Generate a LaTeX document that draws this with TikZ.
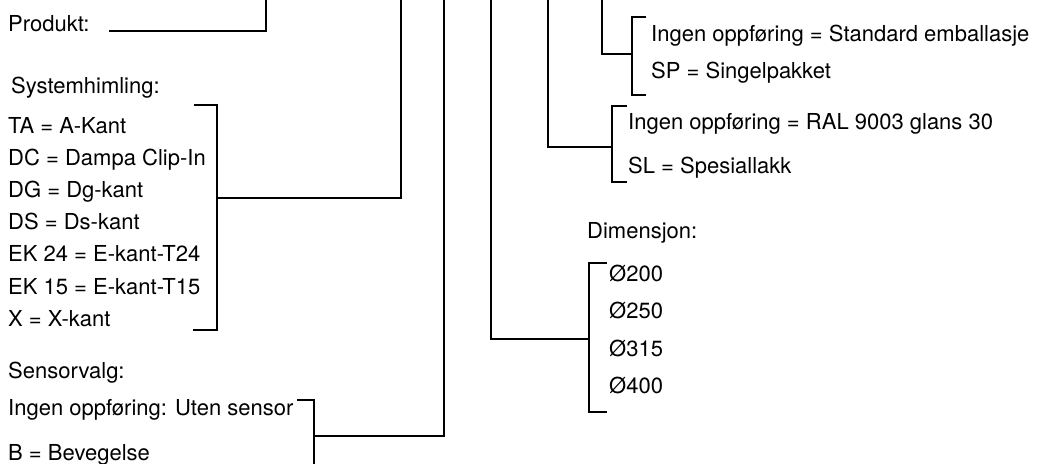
\documentclass[tikz,border=0pt]{standalone}
\usepackage{fontspec}
\setmainfont{TeX Gyre Heros}
\begin{document}
\begin{tikzpicture}[x=1pt,y=-1pt,
  lbl/.style={anchor=base west,inner sep=0pt,font=\fontsize{22}{26}\selectfont},
  ln/.style={line width=1.4pt,line join=miter}]
\useasboundingbox (0,0) rectangle (1038,463);
% left column
\node[lbl] (prod) at (8,31) {Produkt:};
\node[lbl] (sys) at (11,93) {Systemhimling:};
\node[lbl] (ta) at (8,133) {TA = A-Kant};
\node[lbl] (dc) at (8,165) {DC = Dampa Clip-In};
\node[lbl] (dg) at (8,197) {DG = Dg-kant};
\node[lbl] (ds) at (8,229) {DS = Ds-kant};
\node[lbl] (ek24) at (8,261) {EK 24 = E-kant-T24};
\node[lbl] (ek15) at (8,294) {EK 15 = E-kant-T15};
\node[lbl] (xk) at (8,326) {X = X-kant};
\node[lbl] (sens) at (8,378) {Sensorvalg:};
\node[lbl] (ingen) at (8,415) {Ingen oppføring: Uten sensor};
\node[lbl] (bev) at (8,460) {B = Bevegelse};
% right column
\node[lbl] (pk1) at (651,41) {Ingen oppføring = Standard emballasje};
\node[lbl] (pk2) at (651,78) {SP = Singelpakket};
\node[lbl] (ral1) at (628,129) {Ingen oppføring = RAL 9003 glans 30};
\node[lbl] (ral2) at (628,173) {SL = Spesiallakk};
\node[lbl] (dim) at (587,238) {Dimensjon:};
\node[lbl] (d200) at (609,281) {Ø200};
\node[lbl] (d250) at (609,318) {Ø250};
\node[lbl] (d315) at (609,356) {Ø315};
\node[lbl] (d400) at (609,393) {Ø400};
% coordinates
\coordinate (pA) at (109,31);
\coordinate (pB) at (266,-2);
\coordinate (sT) at (194,105);
\coordinate (sB) at (217,330);
\coordinate (sE) at (193,330);
\coordinate (sM) at (217,198);
\coordinate (sU) at (401,-2);
\coordinate (nT) at (297,400);
\coordinate (nB) at (314,466);
\coordinate (nM) at (314,436);
\coordinate (nU) at (444,-2);
\coordinate (dT) at (607,263);
\coordinate (dB) at (589,412);
\coordinate (dE) at (607,412);
\coordinate (dM) at (589,339);
\coordinate (dU) at (491,-2);
\coordinate (rT) at (627,106);
\coordinate (rB) at (612,182);
\coordinate (rE) at (627,182);
\coordinate (rM) at (612,147);
\coordinate (rU) at (548,-2);
\coordinate (kT) at (646,17);
\coordinate (kB) at (632,95);
\coordinate (kE) at (646,95);
\coordinate (kM) at (632,54);
\coordinate (kU) at (602,-2);
% connectors
\draw[ln] (pA) -| (pB);
\draw[ln] (sT) -| (sB) -- (sE);
\draw[ln] (sM) -| (sU);
\draw[ln] (nT) -| (nB);
\draw[ln] (nM) -| (nU);
\draw[ln] (dT) -| (dB) -- (dE);
\draw[ln] (dM) -| (dU);
\draw[ln] (rT) -| (rB) -- (rE);
\draw[ln] (rM) -| (rU);
\draw[ln] (kT) -| (kB) -- (kE);
\draw[ln] (kM) -| (kU);
\end{tikzpicture}
\end{document}
